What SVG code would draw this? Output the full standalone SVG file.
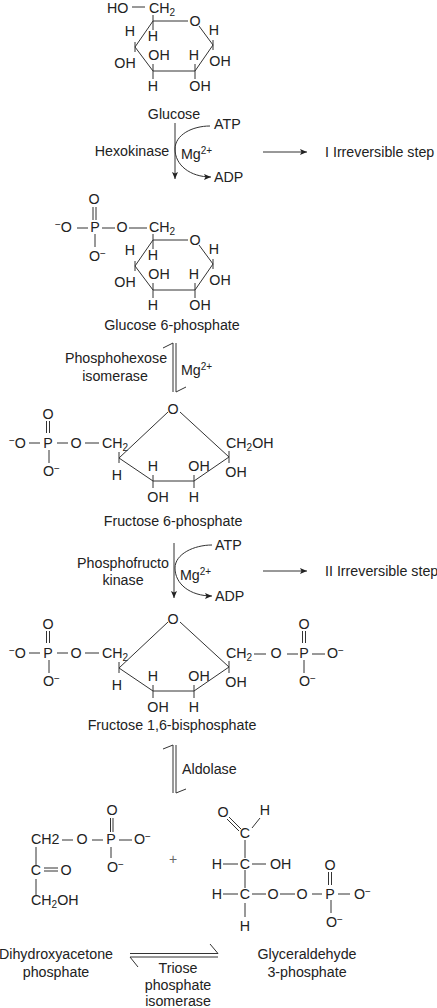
<svg xmlns="http://www.w3.org/2000/svg" width="437" height="1008" viewBox="0 0 437 1008">
<style>
text{font-family:"Liberation Sans",Arial,sans-serif;font-size:14.25px;fill:#222}
.m{text-anchor:middle}
.s{font-size:10px}
.g{font-size:14px;fill:#666}
line,path,polyline,polygon.l{fill:none;stroke:#333;stroke-width:1}
.f{fill:#333;stroke:none}
</style>
<defs>
<marker id="ah" markerWidth="8" markerHeight="6" refX="7" refY="3" orient="auto" markerUnits="userSpaceOnUse"><path d="M0 0L7 3L0 6L1.5 3Z" style="fill:#222;stroke:none"/></marker>
</defs>
<rect width="437" height="1008" fill="#fff"/>
<g id="glucose">
<text x="107" y="13">HO</text><line x1="132" y1="7" x2="145" y2="7"/><text x="149" y="13">CH<tspan class="s" dy="3">2</tspan></text>
<polyline points="188,21 153,21 135,47 153,71 195,71 213,45 199,26"/>
<line x1="153" y1="15" x2="153" y2="30"/><line x1="135" y1="42" x2="135" y2="52"/><line x1="213" y1="40" x2="213" y2="50"/><line x1="153" y1="64" x2="153" y2="79"/><line x1="195" y1="64" x2="195" y2="79"/>
<text class="m" x="195" y="26">O</text><text class="m" x="130" y="36">H</text><text class="m" x="153" y="41">H</text><text class="m" x="214" y="35">H</text>
<text class="m" x="125" y="68">OH</text><text class="m" x="159" y="60">OH</text><text class="m" x="194" y="60">H</text><text class="m" x="220" y="66">OH</text><text class="m" x="153" y="91">H</text><text class="m" x="200" y="91">OH</text>
</g>
<g id="step1-labels">
<text class="m" x="174" y="119">Glucose</text><text class="m" x="132" y="156">Hexokinase</text>
<text x="181" y="159">Mg<tspan class="s" dy="-5">2+</tspan></text><text x="214" y="129">ATP</text><text x="214" y="182">ADP</text>
<text x="325" y="157">I Irreversible step</text>
</g>
<g id="glucose-6-phosphate">
<text class="m" x="94" y="204">O</text><line x1="93" y1="207" x2="93" y2="220"/><line x1="96" y1="207" x2="96" y2="220"/>
<text x="55" y="232"><tspan class="s" dy="-4">−</tspan><tspan dy="4">O</tspan></text><line x1="77" y1="228" x2="88" y2="228"/><text class="m" x="95" y="232">P</text><line x1="102" y1="228" x2="115" y2="228"/><text class="m" x="122" y="232">O</text><line x1="129" y1="228" x2="147" y2="228"/><text x="149" y="232">CH<tspan class="s" dy="3">2</tspan></text>
<line x1="95" y1="234" x2="95" y2="247"/><text x="89" y="261">O<tspan class="s" dy="-4">−</tspan></text>
<polyline points="188,240 153,240 135,266 153,290 195,290 213,264 199,245"/>
<line x1="153" y1="234" x2="153" y2="249"/><line x1="135" y1="261" x2="135" y2="271"/><line x1="213" y1="259" x2="213" y2="269"/><line x1="153" y1="283" x2="153" y2="298"/><line x1="195" y1="283" x2="195" y2="298"/>
<text class="m" x="195" y="245">O</text><text class="m" x="130" y="255">H</text><text class="m" x="153" y="260">H</text><text class="m" x="214" y="254">H</text>
<text class="m" x="125" y="287">OH</text><text class="m" x="159" y="279">OH</text><text class="m" x="194" y="279">H</text><text class="m" x="220" y="285">OH</text><text class="m" x="153" y="310">H</text><text class="m" x="200" y="310">OH</text>
<text class="m" x="172" y="330">Glucose 6-phosphate</text>
</g>
<g id="step2-labels">
<text class="m" x="116" y="363">Phosphohexose</text><text class="m" x="115" y="381">isomerase</text>
<text x="181" y="375">Mg<tspan class="s" dy="-5">2+</tspan></text>
</g>
<g id="fructose-6-phosphate">
<text class="m" x="48" y="419">O</text><line x1="46.5" y1="421" x2="46.5" y2="433"/><line x1="49.5" y1="421" x2="49.5" y2="433"/>
<text x="9" y="448"><tspan class="s" dy="-4">−</tspan><tspan dy="4">O</tspan></text><line x1="29" y1="443" x2="40" y2="443"/><text class="m" x="48" y="448">P</text><line x1="57" y1="443" x2="68" y2="443"/><text class="m" x="76" y="448">O</text><line x1="85" y1="443" x2="99" y2="443"/><text x="102" y="448">CH<tspan class="s" dy="3">2</tspan></text>
<line x1="49" y1="450" x2="49" y2="463"/><text x="43" y="476">O<tspan class="s" dy="-4">−</tspan></text>
<polyline points="168,412 119,458 153,481 194,481 229,457 180,412"/>
<line x1="119" y1="452" x2="119" y2="463"/><line x1="153" y1="475" x2="153" y2="488"/><line x1="194" y1="475" x2="194" y2="488"/><line x1="229" y1="451" x2="229" y2="463"/>
<text class="m" x="173" y="414">O</text><text class="m" x="117" y="480">H</text><text class="m" x="153" y="471">H</text><text class="m" x="158" y="502">OH</text><text class="m" x="199" y="471">OH</text><text class="m" x="194" y="502">H</text><text class="m" x="236" y="477">OH</text>
<text x="226" y="448">CH<tspan class="s" dy="3">2</tspan><tspan dy="-3">OH</tspan></text>
<text class="m" x="173" y="526">Fructose 6-phosphate</text>
</g>
<g id="step3-labels">
<text class="m" x="123" y="568">Phosphofructo</text><text class="m" x="123" y="585">kinase</text>
<text x="180" y="580">Mg<tspan class="s" dy="-5">2+</tspan></text><text x="215" y="550">ATP</text><text x="215" y="601">ADP</text>
<text x="325" y="576">II Irreversible step</text>
</g>
<g id="fructose-1-6-bisphosphate">
<text class="m" x="48" y="629">O</text><line x1="46.5" y1="631" x2="46.5" y2="643"/><line x1="49.5" y1="631" x2="49.5" y2="643"/>
<text x="9" y="658"><tspan class="s" dy="-4">−</tspan><tspan dy="4">O</tspan></text><line x1="29" y1="653" x2="40" y2="653"/><text class="m" x="48" y="658">P</text><line x1="57" y1="653" x2="68" y2="653"/><text class="m" x="76" y="658">O</text><line x1="85" y1="653" x2="99" y2="653"/><text x="102" y="658">CH<tspan class="s" dy="3">2</tspan></text>
<line x1="49" y1="660" x2="49" y2="673"/><text x="43" y="686">O<tspan class="s" dy="-4">−</tspan></text>
<polyline points="168,622 119,668 153,691 194,691 229,667 180,622"/>
<line x1="119" y1="662" x2="119" y2="673"/><line x1="153" y1="685" x2="153" y2="698"/><line x1="194" y1="685" x2="194" y2="698"/><line x1="229" y1="661" x2="229" y2="673"/>
<text class="m" x="173" y="624">O</text><text class="m" x="117" y="690">H</text><text class="m" x="153" y="681">H</text><text class="m" x="158" y="712">OH</text><text class="m" x="199" y="681">OH</text><text class="m" x="194" y="712">H</text><text class="m" x="236" y="687">OH</text>
<text x="226" y="658">CH<tspan class="s" dy="3">2</tspan></text>
<line x1="254" y1="654" x2="266" y2="654"/><text class="m" x="276" y="658">O</text><line x1="287" y1="654" x2="298" y2="654"/><text class="m" x="304" y="658">P</text><line x1="312" y1="654" x2="325" y2="654"/><text x="327" y="658">O<tspan class="s" dy="-4">−</tspan></text>
<text class="m" x="304" y="629">O</text><line x1="302.5" y1="631" x2="302.5" y2="643"/><line x1="305.5" y1="631" x2="305.5" y2="643"/><line x1="304" y1="660" x2="304" y2="673"/><text x="299" y="686">O<tspan class="s" dy="-4">−</tspan></text>
<text class="m" x="172" y="730">Fructose 1,6-bisphosphate</text>
</g>
<g id="aldolase-label"><text x="182" y="774">Aldolase</text></g>
<g id="dihydroxyacetone-phosphate">
<text x="31" y="844">CH2</text><line x1="62" y1="840" x2="73" y2="840"/><text class="m" x="82" y="844">O</text><line x1="92" y1="840" x2="103" y2="840"/><text class="m" x="111" y="844">P</text><line x1="119" y1="840" x2="132" y2="840"/><text x="134" y="844">O<tspan class="s" dy="-4">−</tspan></text>
<text class="m" x="112" y="815">O</text><line x1="110.5" y1="818" x2="110.5" y2="832"/><line x1="113" y1="818" x2="113" y2="832"/><line x1="111" y1="847" x2="111" y2="858"/><text x="107" y="872">O<tspan class="s" dy="-4">−</tspan></text>
<line x1="36" y1="847" x2="36" y2="865"/><text class="m" x="36" y="875">C</text><line x1="44" y1="868" x2="58" y2="868"/><line x1="44" y1="871" x2="58" y2="871"/><text class="m" x="66" y="875">O</text><line x1="36" y1="879" x2="36" y2="895"/>
<text x="31" y="905">CH<tspan class="s" dy="3">2</tspan><tspan dy="-3">OH</tspan></text>
<text class="m" x="56" y="959">Dihydroxyacetone</text><text class="m" x="56" y="977">phosphate</text>
</g>
<g id="plus"><text class="m g" x="173" y="864">+</text></g>
<g id="glyceraldehyde-3-phosphate">
<text class="m" x="223" y="817">O</text><text class="m" x="265" y="815">H</text><line x1="229" y1="817" x2="241" y2="829"/><line x1="227" y1="819" x2="239" y2="831"/><line x1="252" y1="828" x2="260" y2="818"/>
<text class="m" x="245" y="838">C</text><line x1="245" y1="840" x2="245" y2="858"/>
<text class="m" x="217" y="869">H</text><line x1="223" y1="864" x2="238" y2="864"/><text class="m" x="245" y="869">C</text><line x1="252" y1="864" x2="266" y2="864"/><text x="270" y="869">OH</text><line x1="245" y1="870" x2="245" y2="888"/>
<text class="m" x="217" y="899">H</text><line x1="223" y1="894" x2="238" y2="894"/><text class="m" x="245" y="899">C</text><line x1="252" y1="894" x2="266" y2="894"/><text class="m" x="273" y="899">O</text><line x1="280" y1="894" x2="295" y2="894"/><text class="m" x="302" y="899">O</text><line x1="312" y1="894" x2="322" y2="894"/><text class="m" x="330" y="899">P</text><line x1="338" y1="894" x2="350" y2="894"/><text x="354" y="899">O<tspan class="s" dy="-4">−</tspan></text>
<text class="m" x="330" y="870">O</text><line x1="328.5" y1="872" x2="328.5" y2="885"/><line x1="331.5" y1="872" x2="331.5" y2="885"/><line x1="331" y1="900" x2="331" y2="913"/><text x="326" y="927">O<tspan class="s" dy="-4">−</tspan></text>
<line x1="245" y1="903" x2="245" y2="917"/><text class="m" x="245" y="931">H</text>
<text class="m" x="307" y="959">Glyceraldehyde</text><text class="m" x="307" y="977">3-phosphate</text>
</g>
<g id="triose-label"><text class="m" x="178" y="973">Triose</text><text class="m" x="178" y="990">phosphate</text><text class="m" x="178" y="1006">isomerase</text></g>
<g id="connectors">
<line x1="175" y1="123" x2="175" y2="179" marker-end="url(#ah)"/>
<path d="M210 126C192 126 175 135 175 149C175 165 190 177 211 177" marker-end="url(#ah)"/>
<line x1="263" y1="152" x2="307" y2="152" marker-end="url(#ah)"/>
<polyline points="163,348 173,343 173,392"/><polyline points="176,343 176,392 186,387"/>
<line x1="174" y1="543" x2="174" y2="598" marker-end="url(#ah)"/>
<path d="M212 545C194 545 175 554 175 568C175 584 190 596 212 596" marker-end="url(#ah)"/>
<line x1="263" y1="571" x2="307" y2="571" marker-end="url(#ah)"/>
<polyline points="163,749 173,745 173,793"/><polyline points="176,745 176,793 186,789"/>
<polyline points="210,944 218,953.5 130,953.5"/><polyline points="218,957 130,957 138,967"/>
</g>
</svg>
